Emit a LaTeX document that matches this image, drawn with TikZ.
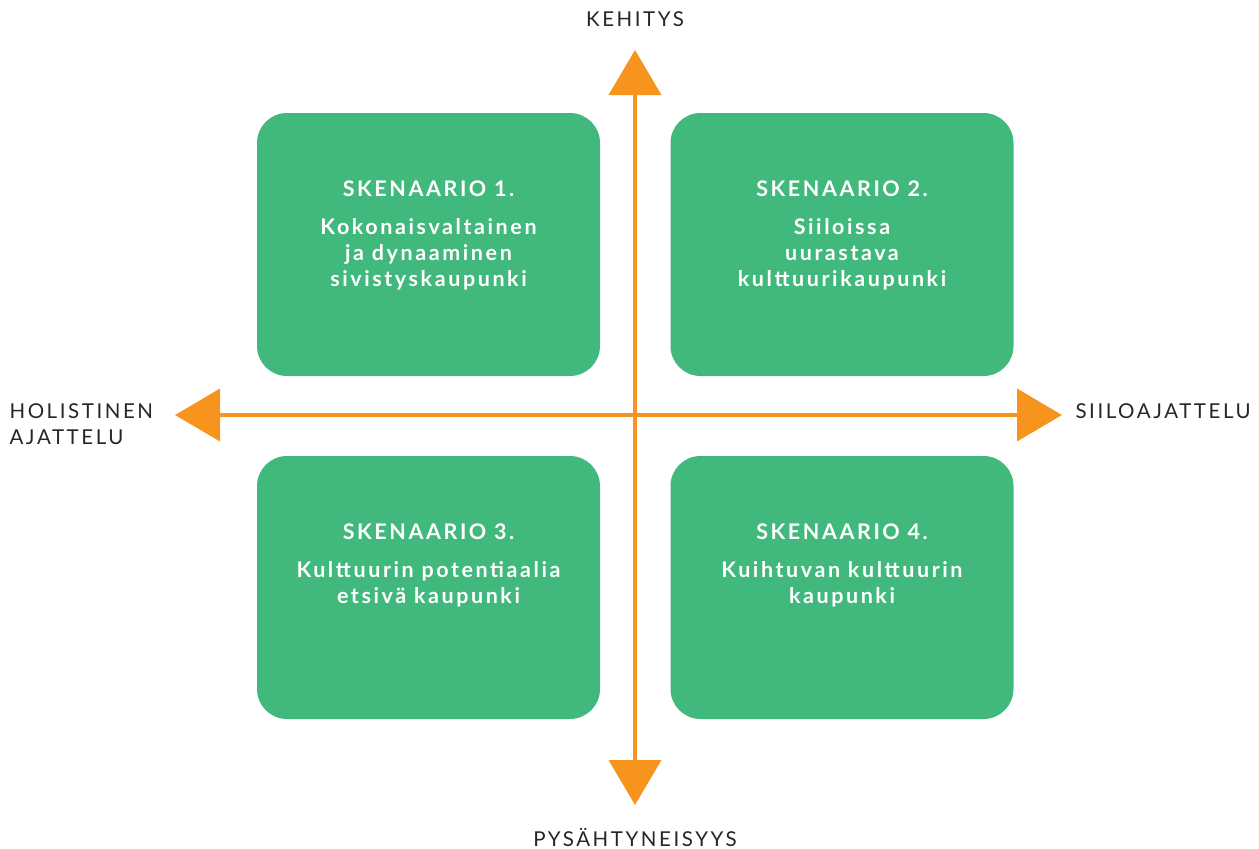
\documentclass[tikz,border=0pt]{standalone}
\usepackage{fontspec}
\setmainfont{Lato}
\newfontfamily\axisfont[LetterSpace=12.5]{Lato}
\newfontfamily\boxfont[LetterSpace=12]{Lato}
\usetikzlibrary{arrows.meta}
\definecolor{scengreen}{RGB}{66,185,124}
\definecolor{axisorange}{RGB}{247,148,29}

\begin{document}
\begin{tikzpicture}[x=1pt, y=-1pt,
    scenario/.style={draw=none, fill=scengreen, rounded corners=30pt, minimum width=343pt, minimum height=263pt},
    scentext/.style={text=white, align=center, font=\boxfont\bfseries\fontsize{21.5}{26}\selectfont},
    axis/.style={draw=axisorange, line width=4pt, {Triangle[width=52pt,length=45pt]}-{Triangle[width=52pt,length=45pt]}},
    axislabel/.style={font=\axisfont\fontsize{20.5}{26}\selectfont, text=black!85}]
    \useasboundingbox (0,0) rectangle (1259,849);

    % Scenarios
    \node[scenario] (s1) at (428.5,244.5) {};
    \node[scenario] (s2) at (842,244.5) {};
    \node[scenario] (s3) at (428.5,587.5) {};
    \node[scenario] (s4) at (842,587.5) {};
    \node[scentext, anchor=north] (t1) at (428.5,177) {SKENAARIO 1.\\[12pt]Kokonaisvaltainen\\ja dynaaminen\\sivistyskaupunki};
    \node[scentext, anchor=north] (t2) at (842,177) {SKENAARIO 2.\\[12pt]Siiloissa\\uurastava\\kulttuurikaupunki};
    \node[scentext, anchor=north] (t3) at (428.5,520) {SKENAARIO 3.\\[12pt]Kulttuurin potentiaalia\\etsivä kaupunki};
    \node[scentext, anchor=north] (t4) at (842,520) {SKENAARIO 4.\\[12pt]Kuihtuvan kulttuurin\\kaupunki};

    % Axes
    \coordinate (up) at (635,50);
    \coordinate (down) at (635,805);
    \coordinate (left) at (175,415);
    \coordinate (right) at (1062,415);
    \draw[axis] (down) -- (up);
    \draw[axis] (left) -- (right);

    % Axis labels
    \node[axislabel, anchor=south] (kehitys) at (635,30) {KEHITYS};
    \node[axislabel, anchor=north] (pysah) at (635,825) {PYSÄHTYNEISYYS};
    \node[axislabel, anchor=west, align=left] (holist) at (6,424) {HOLISTINEN\\AJATTELU};
    \node[axislabel, anchor=west] (siilo) at (1072,411) {SIILOAJATTELU};
\end{tikzpicture}
\end{document}
